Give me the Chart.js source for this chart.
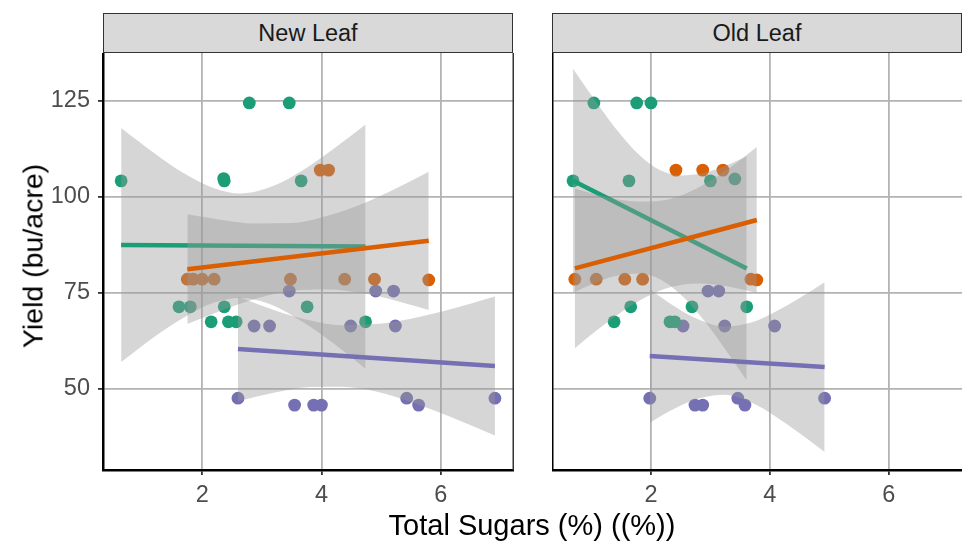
<!DOCTYPE html>
<html><head><meta charset="utf-8">
<script src="https://cdn.jsdelivr.net/npm/chart.js@4.4.1/dist/chart.umd.min.js"></script>
<style>
body{margin:0;width:972px;height:544px;background:#fff;position:relative;overflow:hidden;font-family:"Liberation Sans",Arial,sans-serif}
.strip{position:absolute;top:13px;height:40px;background:#d9d9d9;border:1px solid #333;box-sizing:border-box;text-align:center;line-height:38px;font-size:23.5px;color:#1a1a1a;z-index:2}
canvas{position:absolute}
#ytitle{position:absolute;left:33px;top:256px;transform:translate(-50%,-50%) rotate(-90deg);font-size:28.5px;color:#000;white-space:nowrap}
#xtitle{position:absolute;left:532px;top:525px;transform:translate(-50%,-50%);font-size:29px;color:#000;white-space:nowrap}
</style></head><body>
<div class="strip" style="left:103px;width:410px">New Leaf</div>
<div class="strip" style="left:552px;width:410px">Old Leaf</div>
<canvas id="c1" width="514" height="491" style="left:0;top:53px"></canvas>
<canvas id="c2" width="410" height="491" style="left:552px;top:53px"></canvas>
<div id="ytitle">Yield (bu/acre)</div>
<div id="xtitle">Total Sugars (%) ((%))</div>
<script>
// ---- tick labels ----
const xTicks = [2, 4, 6];
const yTicks = [50, 75, 100, 125];
const xRange = [0.336, 7.23];
const yRange = [28.9, 137.5];
const colors = {green: '#1B9E77', orange: '#D95F02', purple: '#7570B3'};

// ---- New Leaf points ----
const nlGreenX  = [0.64, 2.36, 2.37, 2.79, 3.46, 3.66, 1.61, 1.80, 2.37, 2.15, 2.44, 2.57, 3.76, 4.74];
const nlGreenY  = [104.2, 104.8, 104.2, 124.5, 124.5, 104.2, 71.4, 71.4, 71.4, 67.5, 67.5, 67.5, 71.4, 67.5];
const nlOrangeX = [1.75, 1.85, 2.00, 2.20, 3.48, 4.39, 4.89, 5.80, 3.98, 4.12];
const nlOrangeY = [78.6, 78.6, 78.6, 78.6, 78.6, 78.6, 78.6, 78.4, 107.0, 107.0];
const nlPurpleX = [2.87, 3.13, 3.46, 2.60, 3.55, 3.87, 4.00, 4.49, 4.91, 5.21, 5.24, 5.43, 5.63, 6.91];
const nlPurpleY = [66.4, 66.4, 75.5, 47.6, 45.8, 45.8, 45.8, 66.4, 75.5, 75.5, 66.4, 47.6, 45.8, 47.6];

// ---- New Leaf fitted lines ----
const nlGreenFitX  = [0.64, 4.74];  const nlGreenFitY  = [87.5, 87.1];
const nlOrangeFitX = [1.75, 5.80];  const nlOrangeFitY = [81.2, 88.6];
const nlPurpleFitX = [2.60, 6.91];  const nlPurpleFitY = [60.4, 56.0];

// ---- New Leaf confidence bands ----
const nlGreenBandX  = [0.64, 1.2, 1.7, 2.2, 2.64, 3.2, 3.7, 4.2, 4.74];
const nlGreenBandLo = [57.0, 63.6, 68.7, 72.5, 73.7, 71.7, 67.3, 61.9, 55.3];
const nlGreenBandHi = [118.0, 111.4, 106.1, 102.3, 100.9, 102.9, 107.1, 112.5, 118.9];
const nlOrangeBandX  = [1.75, 2.3, 2.9, 3.5, 4.1, 4.7, 5.25, 5.8];
const nlOrangeBandLo = [66.9, 70.3, 73.5, 75.6, 75.9, 74.9, 73.0, 70.6];
const nlOrangeBandHi = [95.5, 94.1, 93.1, 93.2, 95.1, 98.3, 102.2, 106.6];
const nlPurpleBandX  = [2.6, 3.2, 3.8, 4.34, 4.9, 5.5, 6.2, 6.91];
const nlPurpleBandLo = [46.8, 49.0, 50.5, 50.6, 49.4, 46.6, 42.5, 37.9];
const nlPurpleBandHi = [74.0, 70.6, 67.9, 66.6, 66.9, 68.3, 70.9, 74.1];

// ---- Old Leaf points ----
const olGreenX  = [1.04, 1.76, 2.00, 0.69, 1.63, 3.00, 3.41, 1.66, 1.38, 2.32, 2.40, 2.69, 3.61];
const olGreenY  = [124.5, 124.5, 124.5, 104.2, 104.2, 104.2, 104.7, 71.4, 67.5, 67.5, 67.5, 71.4, 71.4];
const olOrangeX = [0.72, 1.08, 1.56, 1.86, 3.68, 3.78, 2.42, 2.87, 3.21];
const olOrangeY = [78.6, 78.6, 78.6, 78.6, 78.6, 78.4, 107.0, 107.0, 107.0];
const olPurpleX = [2.96, 3.14, 2.54, 3.24, 4.08, 1.98, 2.74, 2.87, 3.46, 3.58, 4.92];
const olPurpleY = [75.5, 75.5, 66.4, 66.4, 66.4, 47.6, 45.8, 45.8, 47.6, 45.8, 47.6];

// ---- Old Leaf fitted lines ----
const olGreenFitX  = [0.69, 3.61];  const olGreenFitY  = [104.2, 81.4];
const olOrangeFitX = [0.72, 3.78];  const olOrangeFitY = [81.4, 94.0];
const olPurpleFitX = [1.98, 4.92];  const olPurpleFitY = [58.6, 55.7];

// ---- Old Leaf confidence bands ----
const olGreenBandX  = [0.69, 1.0, 1.4, 1.8, 2.15, 2.5, 2.9, 3.3, 3.61];
const olGreenBandLo = [75.0, 77.2, 79.4, 80.0, 78.6, 74.6, 67.7, 59.2, 52.2];
const olGreenBandHi = [133.4, 126.4, 118.0, 111.0, 107.0, 105.6, 106.3, 108.4, 110.6];
const olOrangeBandX  = [0.72, 1.1, 1.5, 1.9, 2.35, 2.8, 3.3, 3.78];
const olOrangeBandLo = [60.6, 65.4, 70.0, 73.8, 76.6, 77.5, 76.7, 75.0];
const olOrangeBandHi = [102.2, 100.6, 99.2, 98.8, 99.6, 102.5, 107.3, 113.0];
const olPurpleBandX  = [1.98, 2.4, 2.8, 3.23, 3.7, 4.1, 4.5, 4.92];
const olPurpleBandLo = [41.2, 44.9, 47.5, 48.5, 46.4, 42.8, 38.5, 33.6];
const olPurpleBandHi = [76.0, 71.5, 68.1, 66.3, 67.4, 70.2, 73.7, 77.8];

const xy = (xs, ys) => xs.map((x, i) => ({x: x, y: ys[i]}));
const bandFill = 'rgba(153,153,153,0.4)';
const tickFont = {size: 23.5, family: '"Liberation Sans", Arial, sans-serif'};

function groupSets(col, px, py, fx, fy, bx, blo, bhi, base) {
  return {
    points: {data: xy(px, py), backgroundColor: col, pointRadius: 6.4, pointBorderWidth: 0, pointHoverRadius: 0, showLine: false, order: 100},
    sets: [
      {data: xy(bx, blo), showLine: true, borderColor: 'transparent', pointRadius: 0, cubicInterpolationMode: 'monotone', fill: false, order: base + 1},
      {data: xy(bx, bhi), showLine: true, borderColor: 'transparent', pointRadius: 0, cubicInterpolationMode: 'monotone', fill: '-1', backgroundColor: bandFill, order: base},
      {data: xy(fx, fy), showLine: true, borderColor: col, borderWidth: 4.5, pointRadius: 0, fill: false, borderCapStyle: 'butt', order: base - 10}
    ]
  };
}

function build(groups) {
  const ds = [];
  groups.forEach(g => ds.push(g.points));
  groups.forEach(g => g.sets.forEach(s => ds.push(s)));
  return ds;
}

const frame = {
  id: 'frame',
  afterDraw(chart, args, opts) {
    if (!opts.right) return;
    const a = chart.chartArea, c = chart.ctx;
    c.save(); c.strokeStyle = '#333'; c.lineWidth = 1.5;
    c.beginPath(); c.moveTo(a.right - 0.75, a.top); c.lineTo(a.right - 0.75, a.bottom); c.stroke();
    c.restore();
  }
};

const noPad = s => { s.paddingTop = 0; s.paddingBottom = 0; s.paddingLeft = 0; s.paddingRight = 0; };

function makeChart(id, datasets, showY) {
  return new Chart(document.getElementById(id), {
    type: 'scatter',
    data: {datasets: datasets},
    plugins: [frame],
    options: {
      responsive: false, animation: false, events: [],
      layout: {padding: 0, autoPadding: false},
      plugins: {legend: {display: false}, tooltip: {enabled: false}, frame: {right: showY}},
      scales: {
        x: {
          type: 'linear', min: xRange[0], max: xRange[1],
          afterBuildTicks: s => { s.ticks = xTicks.map(v => ({value: v})); },
          afterFit: s => { s.height = 74; noPad(s); },
          ticks: {color: '#4d4d4d', font: tickFont, padding: 6, autoSkip: false, maxRotation: 0},
          grid: {color: '#b3b3b3', lineWidth: 1.8, tickColor: '#333', tickLength: 5},
          border: {display: true, color: '#000', width: 2.5}
        },
        y: {
          type: 'linear', min: yRange[0], max: yRange[1],
          afterBuildTicks: s => { s.ticks = yTicks.map(v => ({value: v})); },
          afterFit: s => { s.width = showY ? 103 : 0; noPad(s); },
          ticks: {display: showY, color: '#4d4d4d', font: tickFont, padding: 8},
          grid: {color: '#b3b3b3', lineWidth: 1.8, tickColor: '#333', tickLength: 5, drawTicks: showY},
          border: {display: true, color: '#000', width: 2.5}
        }
      }
    }
  });
}

const nlGroups = [
  groupSets(colors.green, nlGreenX, nlGreenY, nlGreenFitX, nlGreenFitY, nlGreenBandX, nlGreenBandLo, nlGreenBandHi, 60),
  groupSets(colors.orange, nlOrangeX, nlOrangeY, nlOrangeFitX, nlOrangeFitY, nlOrangeBandX, nlOrangeBandLo, nlOrangeBandHi, 40),
  groupSets(colors.purple, nlPurpleX, nlPurpleY, nlPurpleFitX, nlPurpleFitY, nlPurpleBandX, nlPurpleBandLo, nlPurpleBandHi, 20)
];
const olGroups = [
  groupSets(colors.green, olGreenX, olGreenY, olGreenFitX, olGreenFitY, olGreenBandX, olGreenBandLo, olGreenBandHi, 60),
  groupSets(colors.orange, olOrangeX, olOrangeY, olOrangeFitX, olOrangeFitY, olOrangeBandX, olOrangeBandLo, olOrangeBandHi, 40),
  groupSets(colors.purple, olPurpleX, olPurpleY, olPurpleFitX, olPurpleFitY, olPurpleBandX, olPurpleBandLo, olPurpleBandHi, 20)
];

makeChart('c1', build(nlGroups), true);
makeChart('c2', build(olGroups), false);
</script>
</body></html>
